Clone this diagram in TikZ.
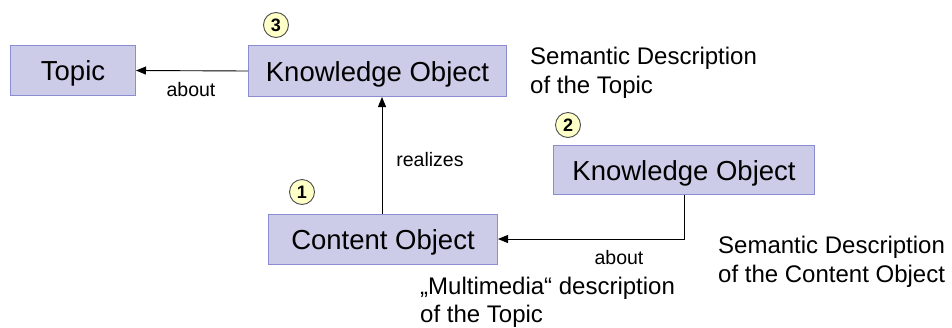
\documentclass[tikz,border=0pt]{standalone}
\usepackage{fontspec}
\setmainfont{Liberation Sans}
\usetikzlibrary{arrows.meta}
\definecolor{boxfill}{RGB}{204,204,232}
\definecolor{boxline}{RGB}{140,140,210}
\definecolor{badgefill}{RGB}{255,255,200}
\begin{document}
\begin{tikzpicture}[x=1pt,y=-1pt,
  entity/.style={draw=boxline,fill=boxfill,line width=1pt,inner sep=0pt,
    text height=20pt,text depth=-2pt,
    anchor=north west,font=\fontsize{27.5}{30}\selectfont},
  badge/.style={circle,draw=black!70,fill=badgefill,line width=0.9pt,
    minimum size=25pt,inner sep=0pt,font=\fontsize{18}{18}\selectfont\bfseries},
  rel/.style={-{Triangle[length=10pt,width=8pt]},line width=0.9pt},
  rellabel/.style={font=\fontsize{19.5}{22}\selectfont,inner sep=0pt},
  note/.style={font=\fontsize{24}{29}\selectfont,align=left,inner sep=0pt,anchor=north west}]
\useasboundingbox (0,0) rectangle (952,327);

% boxes
\node[entity,minimum width=125pt,minimum height=50pt] (topic) at (10,45) {Topic};
\node[entity,minimum width=258pt,minimum height=51pt] (ko3) at (248,45) {Knowledge Object};
\node[entity,minimum width=229pt,minimum height=50pt] (co) at (268,214) {Content Object};
\node[entity,minimum width=261pt,minimum height=49pt] (ko2) at (553,145) {Knowledge Object};

% numbered badges
\node[badge] (b3) at (276,25) {3};
\node[badge] (b1) at (302,192) {1};
\node[badge] (b2) at (568,125) {2};

% relations
\draw[rel] (ko3.west) -- (topic.east);
\draw[rel] (co.north -| 382,0) coordinate (cotop) -- (cotop |- ko3.south);
\coordinate (bend) at (684,239);
\draw[rel] (ko2.south -| bend) -- (bend) -- (bend -| co.east);

% relation labels
\node[rellabel] (l1) at (191,90) {about};
\node[rellabel] (l2) at (430,160) {realizes};
\node[rellabel] (l3) at (619,258) {about};

% descriptions
\node[note] (n3) at (530,47) {Semantic Description\\of the Topic};
\node[note,font=\fontsize{24}{27.5}\selectfont] (n1) at (420,277) {„Multimedia“ description\\of the Topic};
\node[note] (n2) at (718,236) {Semantic Description\\of the Content Object};
\end{tikzpicture}
\end{document}
